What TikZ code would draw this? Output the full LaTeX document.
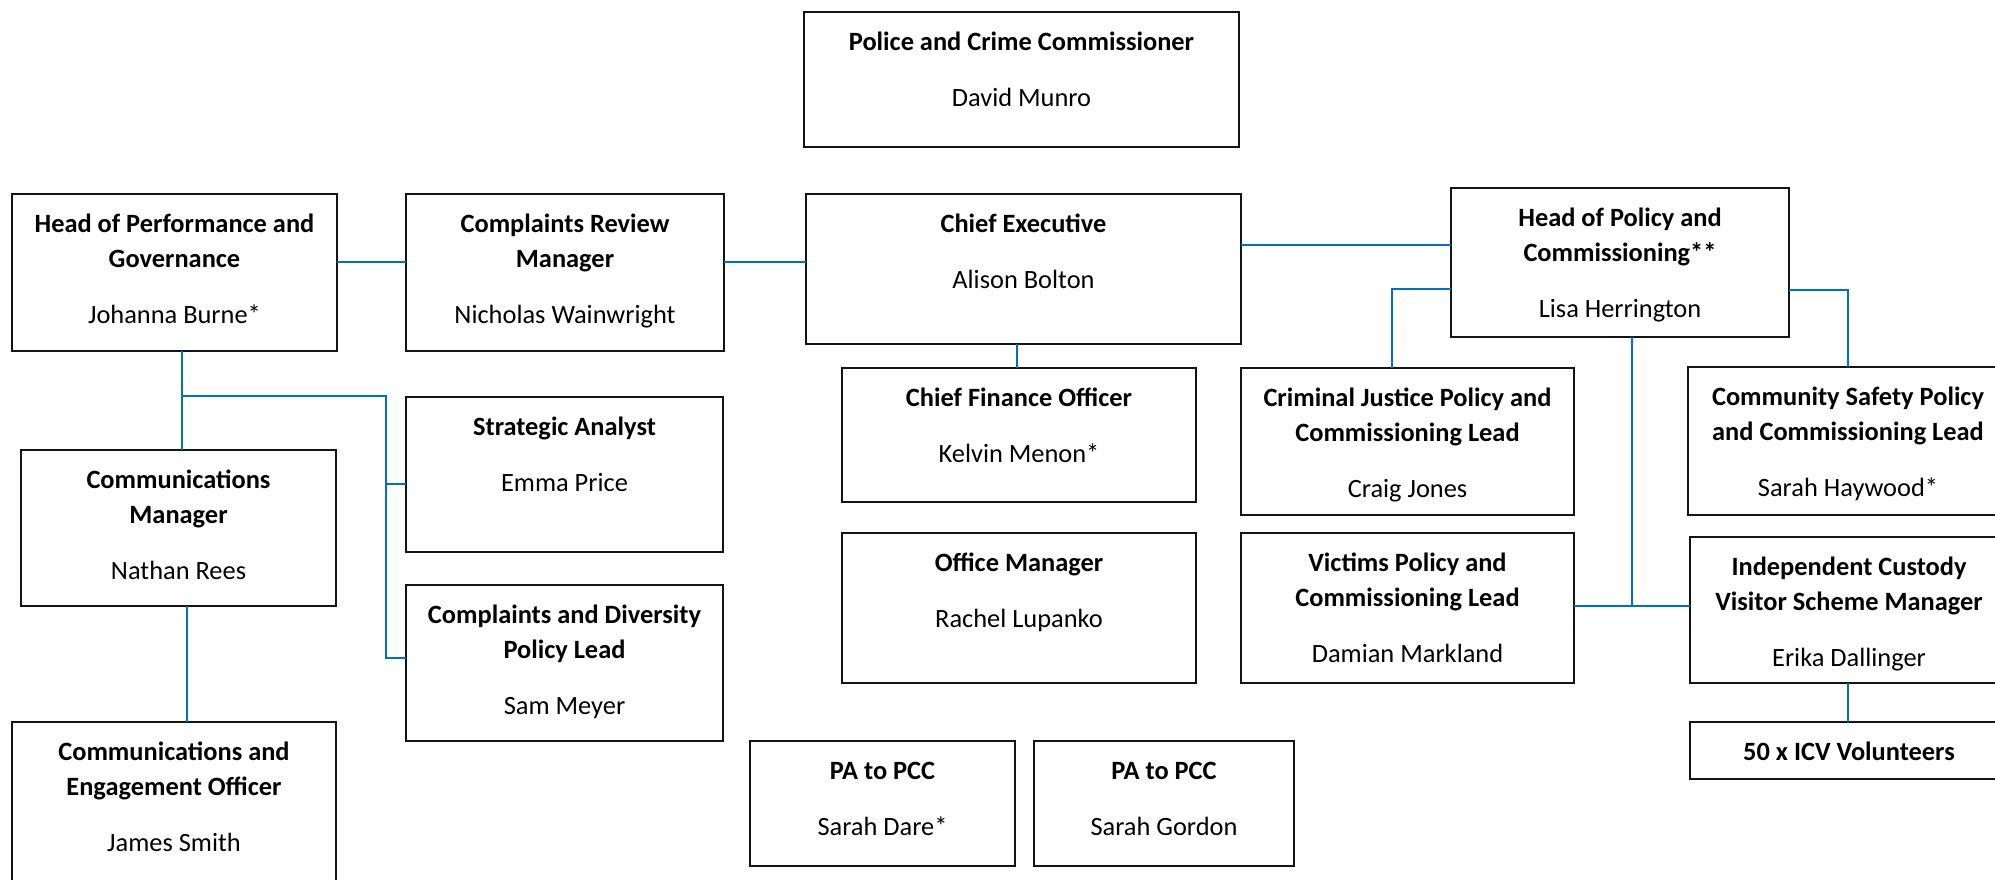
\documentclass[tikz,border=0pt]{standalone}
\usepackage{fontspec}
\setmainfont{Carlito}
\usetikzlibrary{calc}
\definecolor{lnblue}{RGB}{0,112,192}
\definecolor{bdr}{RGB}{20,20,20}
\tikzset{
  orgbox/.style={draw=bdr, line width=2pt, inner sep=0pt, outer sep=0pt, anchor=north west, fill=white},
  orgtxt/.style={anchor=north, align=center, inner sep=0pt, font=\fontsize{26.4}{35}\selectfont},
  link/.style={draw=lnblue, line width=2pt}
}
\newcommand\tl[1]{\strut\textbf{#1}}
\newcommand\orgbox[7]{%
  \node[orgbox, minimum width={#4pt-#2pt}, minimum height={#5pt-#3pt}] (#1) at (#2,#3) {};
  \node[orgtxt, yshift=-13.5pt] (#1-t) at (#1.north) {#6\\[21pt]\strut #7};
}
\begin{document}
\begin{tikzpicture}[x=1pt, y=-1pt]
\useasboundingbox (0,0) rectangle (1995,880);
% boxes
\orgbox{pcc}{804}{12}{1239}{147}{\tl{Police and Crime Commissioner}}{David Munro}
\orgbox{hpg}{12}{194}{337}{351}{\tl{Head of Performance and}\\\tl{Governance}}{Johanna Burne*}
\orgbox{crm}{406}{194}{724}{351}{\tl{Complaints Review}\\\tl{Manager}}{Nicholas Wainwright}
\orgbox{ce}{806}{194}{1241}{344}{\tl{Chief Executive}}{Alison Bolton}
\orgbox{hpc}{1451}{188}{1789}{337}{\tl{Head of Policy and}\\\tl{Commissioning**}}{Lisa Herrington}
\orgbox{cfo}{842}{368}{1196}{502}{\tl{Chief Finance Officer}}{Kelvin Menon*}
\orgbox{cj}{1241}{368}{1574}{515}{\tl{Criminal Justice Policy and}\\\tl{Commissioning Lead}}{Craig Jones}
\orgbox{cs}{1688}{367}{2008}{515}{\tl{Community Safety Policy}\\\tl{and Commissioning Lead}}{Sarah Haywood*}
\orgbox{cm}{21}{450}{336}{606}{\tl{Communications}\\\tl{Manager}}{Nathan Rees}
\orgbox{sa}{406}{397}{723}{552}{\tl{Strategic Analyst}}{Emma Price}
\orgbox{cdp}{406}{585}{723}{741}{\tl{Complaints and Diversity}\\\tl{Policy Lead}}{Sam Meyer}
\orgbox{om}{842}{533}{1196}{683}{\tl{Office Manager}}{Rachel Lupanko}
\orgbox{vpc}{1241}{533}{1574}{683}{\tl{Victims Policy and}\\\tl{Commissioning Lead}}{Damian Markland}
\orgbox{icv}{1690}{537}{2008}{683}{\tl{Independent Custody}\\\tl{Visitor Scheme Manager}}{Erika Dallinger}
\node[orgbox, minimum width=318pt, minimum height=57pt] (vol) at (1690,722) {};
\node[orgtxt, yshift=-13.5pt] (vol-t) at (vol.north) {\tl{50 x ICV Volunteers}};
\orgbox{ceo}{12}{722}{336}{890}{\tl{Communications and}\\\tl{Engagement Officer}}{James Smith}
\orgbox{pa1}{750}{741}{1015}{866}{\tl{PA to PCC}}{Sarah Dare*}
\orgbox{pa2}{1034}{741}{1294}{866}{\tl{PA to PCC}}{Sarah Gordon}
% connectors
\coordinate (jL) at (182,396);
\coordinate (jLr) at (386,396);
\coordinate (jR) at (1632,606);
\draw[link] (hpg.east |- 0,262) -- (crm.west |- 0,262);
\draw[link] (crm.east |- 0,262) -- (ce.west |- 0,262);
\draw[link] (ce.east |- 0,245) -- (hpc.west |- 0,245);
\draw[link] (ce.south -| 1017,0) -- (cfo.north -| 1017,0);
\draw[link] (hpc.west |- 0,289) -| (cj.north -| 1392,0);
\draw[link] (hpc.east |- 0,290) -| (cs.north -| 1848,0);
\draw[link] (hpc.south -| jR) -- (jR);
\draw[link] (vpc.east |- jR) -- (icv.west |- jR);
\draw[link] (icv.south -| 1848,0) -- (vol.north -| 1848,0);
\draw[link] (hpg.south -| jL) -- (cm.north -| jL);
\draw[link] (jL) -- (jLr) -- (386,658) -- (cdp.west |- 0,658);
\draw[link] (386,484) -- (sa.west |- 0,484);
\draw[link] (cm.south -| 187,0) -- (ceo.north -| 187,0);
\end{tikzpicture}
\end{document}
